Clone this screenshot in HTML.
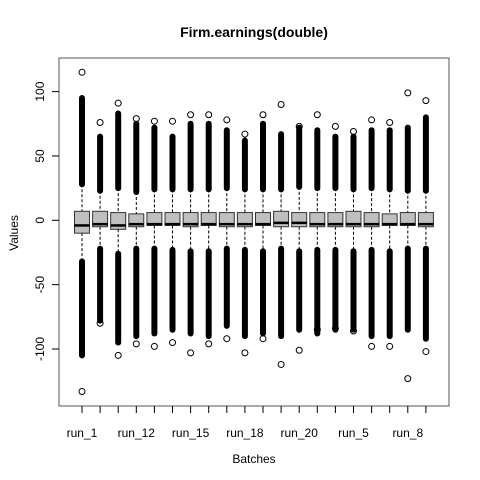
<!DOCTYPE html>
<html><head><meta charset="utf-8"><style>
html,body{margin:0;padding:0;background:#fff;}
svg{display:block;font-family:"Liberation Sans",sans-serif;}
</style></head><body>
<svg id="chart" width="480" height="480">
<text x="254" y="37" text-anchor="middle" font-size="14" font-weight="bold">Firm.earnings(double)</text>
<text x="0" y="0" transform="translate(18,233) rotate(-90)" text-anchor="middle" font-size="12">Values</text>
<text x="254" y="463" text-anchor="middle" font-size="12">Batches</text>
<rect x="59" y="58" width="390" height="348" fill="none" stroke="#555" stroke-width="1"/>
<g id="axes"></g>
<g id="marks"></g>
</svg>
<script>
const categories=["run_1","run_10","run_11","run_12","run_13","run_14","run_15","run_16","run_17","run_18","run_19","run_2","run_20","run_3","run_4","run_5","run_6","run_7","run_8","run_9"];
const q3=[7,7,6,5,6,6,6,6,6,6,6,7,6,6,6,7,6,5,6,6];
const q1=[-10,-5,-7,-5,-4,-4,-5,-4,-5,-5,-4,-5,-5,-5,-5,-5,-5,-4,-4,-5];
const med=[-4,-3,-4,-3,-3,-3,-3,-3,-3,-3,-3,-2,-2,-3,-3,-3,-3,-3,-3,-3];
const whiskHi=[28,23,25,22,24,24,24,24,25,24,24,24,26,25,25,24,25,24,23,23];
const whiskLo=[-32,-22,-26,-22,-22,-23,-24,-24,-22,-23,-24,-22,-24,-23,-23,-24,-23,-24,-22,-22];
const denseHi=[95,65,83,75,72,65,75,75,70,62,75,67,72,70,65,65,70,70,72,80];
const denseLo=[-105,-78,-95,-90,-88,-85,-88,-90,-82,-90,-88,-90,-85,-88,-85,-85,-90,-90,-85,-92];
const outHi=[115,76,91,79,77,77,82,82,78,67,82,90,73,82,73,69,78,76,99,93];
const outLo=[-133,-80,-105,-96,-98,-95,-103,-96,-92,-103,-92,-112,-101,-85,-84,-86,-98,-98,-123,-102];
const yTicks=[-100,-50,0,50,100];
const labelEvery=3;

const NS="http://www.w3.org/2000/svg";
const yS=v=>220.3-1.287*v;
const xS=i=>82+i*18.1;
function mk(tag,attrs,parent){const e=document.createElementNS(NS,tag);for(const k in attrs)e.setAttribute(k,attrs[k]);parent.appendChild(e);return e;}
const axes=document.getElementById('axes'),marks=document.getElementById('marks');
yTicks.forEach(v=>{
  const t=mk('line',{x1:52,x2:59,y1:yS(v),y2:yS(v),stroke:'#000'},axes);
  
  
  const l=mk('text',{transform:`translate(44,${yS(v)}) rotate(-90)`,'text-anchor':'middle','font-size':'12'},axes);
  l.textContent=v;
  
  
});
categories.forEach((c,i)=>{
  const x=xS(i);
  const t=mk('line',{x1:x,x2:x,y1:406,y2:413,stroke:'#000'},axes);
  
  
  if(i%labelEvery===0){
    const l=mk('text',{x:x,y:437,'text-anchor':'middle','font-size':'12'},axes);
    l.textContent=c;
    
    
  }
  const g=mk('g',{},marks);
  
  
  mk('line',{x1:x,x2:x,y1:yS(whiskHi[i]),y2:yS(q3[i]),stroke:'#000','stroke-dasharray':'3,2'},g);
  mk('line',{x1:x,x2:x,y1:yS(q1[i]),y2:yS(whiskLo[i]),stroke:'#000','stroke-dasharray':'3,2'},g);
  mk('line',{x1:x,x2:x,y1:yS(whiskHi[i]),y2:yS(denseHi[i]),stroke:'#000','stroke-width':6,'stroke-linecap':'round'},g);
  mk('line',{x1:x,x2:x,y1:yS(whiskLo[i]),y2:yS(denseLo[i]),stroke:'#000','stroke-width':6,'stroke-linecap':'round'},g);
  mk('circle',{cx:x,cy:yS(outHi[i]),r:3,fill:'none',stroke:'#000'},g);
  mk('circle',{cx:x,cy:yS(outLo[i]),r:3,fill:'none',stroke:'#000'},g);
  mk('rect',{x:x-7.5,y:yS(q3[i]),width:15,height:yS(q1[i])-yS(q3[i]),fill:'#bfbfbf',stroke:'#333'},g);
  mk('line',{x1:x-7.5,x2:x+7.5,y1:yS(med[i]),y2:yS(med[i]),stroke:'#000','stroke-width':2.5},g);
});
</script>
</body></html>
